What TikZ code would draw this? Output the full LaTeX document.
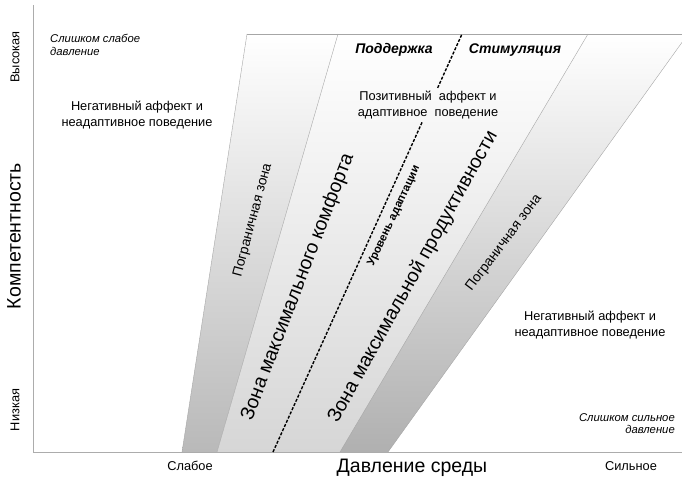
\documentclass[tikz,border=0pt]{standalone}
\usepackage{fontspec}
\setmainfont{Liberation Sans}
\usetikzlibrary{%
  calc,
  shadings,
  positioning
}

\tikzset{
  axisline/.style={draw=gray!65, line width=0.7pt},
  bandedge/.style={draw=gray!70, line width=0.4pt},
  adaptline/.style={line width=1.4pt, dash pattern=on 3pt off 1.6pt},
  plaintxt/.style={font=\fontsize{12.8}{15.5}\selectfont, align=center, inner sep=0pt},
  notetxt/.style={font=\fontsize{11.3}{12.8}\selectfont\itshape, inner sep=0pt},
  bigtxt/.style={font=\fontsize{19.5}{21}\selectfont, inner sep=0pt},
  zonetxt/.style={font=\fontsize{13.8}{15}\selectfont, inner sep=0pt},
  strattxt/.style={font=\fontsize{14}{16}\selectfont\bfseries\itshape, inner sep=0pt},
}

\begin{document}
\begin{tikzpicture}[x=1pt, y=1pt]
  \clip (0,0) rectangle (682,480);

  % band corners: on the pressure axis and on the top line
  \coordinate (A1) at (182,28);  \coordinate (A2) at (247,446);
  \coordinate (B1) at (217,28);  \coordinate (B2) at (338,446);
  \coordinate (D1) at (273,28);  \coordinate (D2) at (462,446);
  \coordinate (C1) at (340,28);  \coordinate (C2) at (588,446);
  \coordinate (E1) at (388,28);  \coordinate (E2) at (688,446);

  % bands
  \shade [top color=white, bottom color=gray!55] (A1) -- (B1) -- (B2) -- (A2) -- cycle ;
  \shade [top color=white, bottom color=gray!32] (B1) -- (C1) -- (C2) -- (B2) -- cycle ;
  \shade [top color=white, bottom color=gray!62] (C1) -- (E1) -- (E2) -- (C2) -- cycle ;
  \draw [bandedge] (A1) -- (A2) ;
  \draw [bandedge] (B1) -- (B2) ;
  \draw [bandedge] (C1) -- (C2) ;
  \draw [bandedge] (E1) -- (E2) ;
  \draw [bandedge] (A2) -- (682,446) ;

  % axes
  \coordinate (O) at (33,28);
  \coordinate (ytop) at (33,475);
  \coordinate (xend) at (682,28);
  \draw [axisline] (ytop) -- (O) -- (xend) ;

  % adaptation level
  \draw [adaptline] (D1) -- ($(D1)!0.789!(D2)$) ;
  \draw [adaptline] ($(D1)!0.871!(D2)$) -- (D2) ;

  % axis labels
  \node [plaintxt, rotate=90] (high) at (15,423) {Высокая};
  \node [plaintxt, rotate=90] (low) at (15,70) {Низкая};
  \node [bigtxt, rotate=90] (comp) at (14,244) {Компетентность};
  \node [plaintxt] (weak) at (190,14) {Слабое};
  \node [bigtxt] (press) at (412,12) {Давление среды};
  \node [plaintxt] (strong) at (631,14) {Сильное};

  % region texts
  \node [notetxt, align=left, anchor=north west] (tooweak) at (50,446)
        {Слишком слабое\\давление};
  \node [notetxt, align=right, anchor=north east] (toostrong) at (675,67)
        {Слишком сильное\\давление};
  \node [plaintxt] (negleft) at (137,365)
        {Негативный аффект и\\неадаптивное поведение};
  \node [plaintxt] (negright) at (590,155)
        {Негативный аффект и\\неадаптивное поведение};
  \node [plaintxt] (pos) at (428,375)
        {Позитивный\ \ аффект и\\адаптивное\ \ поведение};
  \node [strattxt] (support) at (394,430) {Поддержка};
  \node [strattxt] (stimul) at (515,430) {Стимуляция};

  % zone names
  \node [zonetxt, rotate=75] (borderleft) at (253,260) {Пограничная зона};
  \node [bigtxt, rotate=69] (comfort) at (298,193) {Зона максимального комфорта};
  \node [font=\fontsize{11.3}{13}\selectfont\bfseries, inner sep=0pt, rotate=65]
        (adapt) at (394,264) {Уровень адаптации};
  \node [bigtxt, rotate=61] (product) at (413,203) {Зона максимальной продуктивности};
  \node [zonetxt, rotate=53] (borderright) at (504,237) {Пограничная зона};

\end{tikzpicture}
\end{document}
